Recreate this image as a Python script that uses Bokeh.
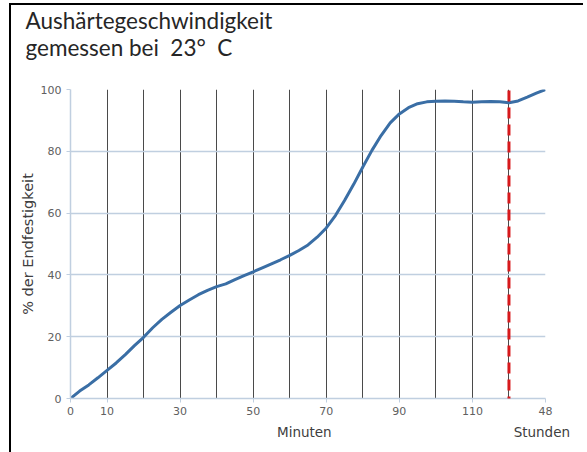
from bokeh.plotting import figure
from bokeh.models import FixedTicker, Arrow, Range1d, LinearAxis, Title
from bokeh.embed import file_html
from bokeh.resources import INLINE

# ---- data (every 2.5 minutes; 130 = 48 Stunden) ----
minutes = [0, 2.5, 5, 7.5, 10, 12.5, 15, 17.5, 20, 22.5, 25, 27.5, 30, 32.5,
           35, 37.5, 40, 42.5, 45, 47.5, 50, 52.5, 55, 57.5, 60, 62.5, 65,
           67.5, 70, 72.5, 75, 77.5, 80, 82.5, 85, 87.5, 90, 92.5, 95, 97.5,
           100, 102.5, 105, 107.5, 110, 112.5, 115, 117.5, 120, 122.5, 125,
           127.5, 130]
strength = [0, 2.4, 4.4, 6.7, 9.1, 11.5, 14.2, 17.1, 19.8, 22.9, 25.6, 27.9,
            30.1, 31.9, 33.6, 35.0, 36.2, 37.1, 38.5, 39.8, 41.0, 42.3, 43.6,
            44.9, 46.3, 47.9, 49.7, 52.2, 55.2, 59.2, 64.1, 69.3, 74.9, 80.3,
            85.1, 89.2, 92.1, 94.1, 95.4, 96.0, 96.2, 96.3, 96.2, 96.0, 95.9,
            96.0, 96.1, 96.0, 95.7, 96.3, 97.5, 98.8, 100.0]
x_ticks = [0, 10, 30, 50, 70, 90, 110, 130]
x_tick_labels = {130: "48"}
unit_ticks = [64, 129]
unit_labels = {64: "Minuten", 129: "Stunden"}
y_ticks = [0, 20, 40, 60, 80, 100]
v_lines = [10, 20, 30, 40, 50, 60, 70, 80, 90, 100, 110, 120, 130]
marker_x = 120
title_text = "Aushärtegeschwindigkeit\ngemessen bei\u00a0 23°\u00a0 C"

LIGHT = "#c0cfe0"
p = figure(width=574, height=449, output_backend="svg", toolbar_location=None,
           x_range=Range1d(0, 130), y_range=Range1d(0, 100),
           min_border_left=59, min_border_right=40, min_border_top=82,
           min_border_bottom=56, title=None)
p.styles = {"border-top": "2px solid black", "border-left": "2px solid black",
            "margin-top": "3px", "margin-left": "9px"}
p.outline_line_color = None
p.background_fill_color = "white"
p.border_fill_color = "white"

# gap between the title block and the plot frame
p.add_layout(Title(text=" ", text_font_size="2px", standoff=22), "above")
# title
p.add_layout(Title(text=title_text, align="left", vertical_align="top",
                   text_font="Lato", text_font_size="22.5px",
                   text_font_style="normal", text_color="#262626",
                   offset=-45, standoff=2, text_line_height=1.0), "above")

# grids
p.ygrid.ticker = FixedTicker(ticks=y_ticks)
p.ygrid.grid_line_color = LIGHT
p.ygrid.grid_line_width = 1.5
p.xgrid.ticker = FixedTicker(ticks=v_lines)
p.xgrid.grid_line_color = "#4a4a4a"
p.xgrid.grid_line_width = 1

# axes
def style_axis(ax):
    ax.axis_line_color = LIGHT
    ax.axis_line_width = 1.5
    ax.major_tick_line_color = LIGHT
    ax.major_tick_in = 0
    ax.major_tick_out = 4
    ax.minor_tick_line_color = None
    ax.major_label_text_color = "#606060"
    ax.major_label_text_font = "DejaVu Sans"
    ax.major_label_text_font_size = "11px"
    ax.axis_label_text_color = "#404040"
    ax.axis_label_text_font = "DejaVu Sans"
    ax.axis_label_text_font_size = "14.5px"
    ax.axis_label_text_font_style = "normal"

style_axis(p.xaxis[0])
style_axis(p.yaxis[0])
p.xaxis.ticker = FixedTicker(ticks=x_ticks)
p.xaxis.major_label_overrides = x_tick_labels
p.xaxis.major_label_standoff = 4
p.yaxis.ticker = FixedTicker(ticks=y_ticks)
p.yaxis.axis_label = "% der Endfestigkeit"
p.yaxis.major_label_standoff = 5
p.yaxis.axis_label_standoff = 2

# unit labels row (Minuten / Stunden)
units = LinearAxis(ticker=FixedTicker(ticks=unit_ticks),
                   major_label_overrides=unit_labels)
units.axis_line_color = None
units.major_tick_line_color = None
units.minor_tick_line_color = None
units.major_tick_out = 0
units.major_tick_in = 0
units.major_label_standoff = 6
units.major_label_text_color = "#404040"
units.major_label_text_font = "DejaVu Sans"
units.major_label_text_font_size = "13.5px"
p.add_layout(units, "below")

# curve
p.line(minutes, strength, line_color="#3a6ea5", line_width=3)

# red dashed marker (extends beyond the frame)
p.add_layout(Arrow(end=None, x_start=marker_x, y_start=105.2, x_end=marker_x,
                   y_end=-13.6, line_color="#d7191c", line_width=3,
                   line_dash="11 6"))

open("out.html", "w").write(file_html(p, INLINE))
